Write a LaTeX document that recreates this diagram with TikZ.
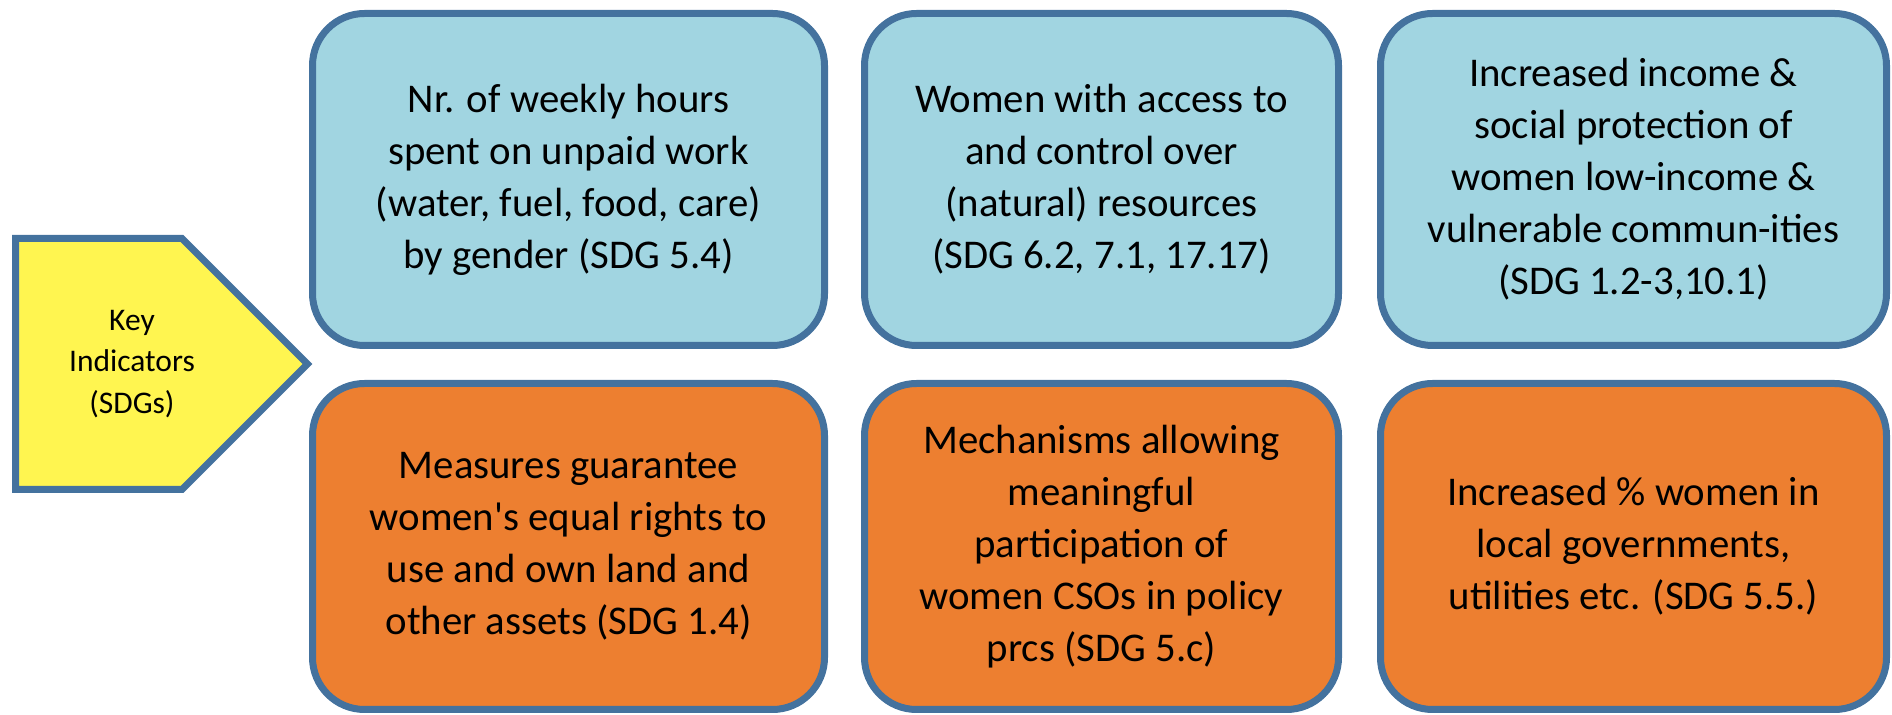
\documentclass[tikz,border=0pt]{standalone}
\usepackage{fontspec}
\setmainfont{Carlito}
\definecolor{edgeblue}{RGB}{68,114,158}
\definecolor{boxblue}{RGB}{161,213,225}
\definecolor{boxorange}{RGB}{237,127,48}
\definecolor{keyyellow}{RGB}{255,245,80}

\begin{document}
\begin{tikzpicture}[x=0.5pt,y=-0.5pt,
    block/.style={
      draw=edgeblue,
      shape=rectangle,
      rounded corners=26pt,
      line width=3.5pt,
      align=center,
      inner sep=0pt,
      text=black,
      font=\fontsize{20.4}{26}\selectfont
    },
    top/.style={block, fill=boxblue, minimum height=166pt},
    bottom/.style={block, fill=boxorange, minimum height=163pt},
    keyarrow/.style={draw=edgeblue, fill=keyyellow, line width=3.5pt, line join=miter},
    keylabel/.style={align=center, inner sep=0pt, font=\fontsize{15.75}{20.8}\selectfont}
    ]
    \useasboundingbox (0,0) rectangle (1892,715);
    %\draw (0,0) grid (1892,715);
    \draw[keyarrow] (15.5,238.5) -- (182,238.5) -- (307.5,364) -- (182,489.5) -- (15.5,489.5) -- cycle;
    \node[keylabel] (key) at (132,364) {Key\\Indicators\\(SDGs)};
    % upper row
    \node[top,minimum width=256pt] (T1) at (568.5,179.5) {Nr. of weekly hours\\spent on unpaid work\\(water, fuel, food, care)\\by gender (SDG 5.4)};
    \node[top,minimum width=237pt] (T2) at (1101.5,179.5) {Women with access to\\and control over\\(natural) resources\\(SDG 6.2, 7.1, 17.17)};
    \node[top,minimum width=253pt] (T3) at (1633.5,179.5) {Increased income \&\\social protection of\\women low-income \&\\vulnerable commun-ities\\(SDG 1.2-3,10.1)};
    % lower row
    \node[bottom,minimum width=256pt] (B1) at (568.5,546.5) {Measures guarantee\\women\textquotesingle s equal rights to\\use and own land and\\other assets (SDG 1.4)};
    \node[bottom,minimum width=237pt] (B2) at (1101.5,546.5) {Mechanisms allowing\\meaningful\\participation of\\women CSOs in policy\\prcs (SDG 5.c)};
    \node[bottom,minimum width=253pt] (B3) at (1633.5,546.5) {Increased \% women in\\local governments,\\utilities etc. (SDG 5.5.)};
  \end{tikzpicture}
\end{document}
